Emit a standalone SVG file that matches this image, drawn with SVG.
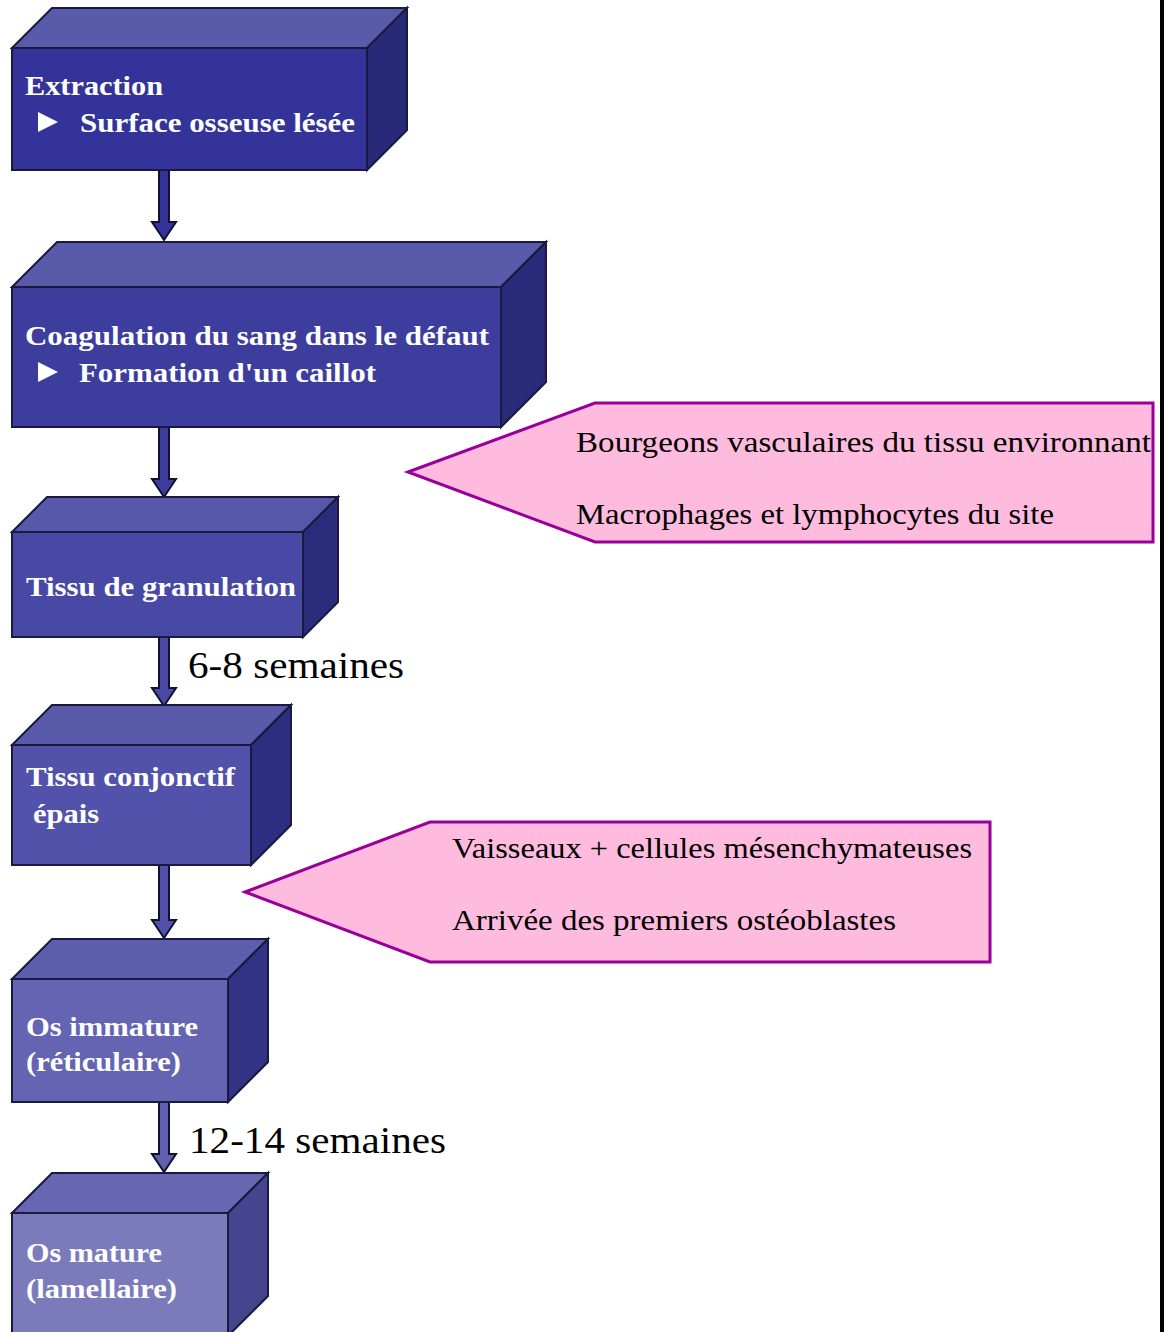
<svg xmlns="http://www.w3.org/2000/svg" width="1164" height="1332" viewBox="0 0 1164 1332">
<style>
.edge{stroke:#1a1a40;stroke-width:2;stroke-linejoin:miter}
.bt{font-family:"Liberation Serif","DejaVu Serif",serif;font-weight:bold;font-size:27px;fill:#ffffff}
.ct{font-family:"Liberation Serif","DejaVu Serif",serif;font-size:29px;fill:#000000}
.wk{font-family:"Liberation Serif","DejaVu Serif",serif;font-size:37px;fill:#000000}
.arr{stroke:#111133;stroke-width:2;stroke-linejoin:miter}
.call{fill:#ffbbdd;stroke:#990099;stroke-width:3}
</style>
<rect x="0" y="0" width="1164" height="1332" fill="#ffffff"/>
<rect x="1160" y="0" width="4" height="1332" fill="#000000"/>

<g id="connectors">
<path class="arr" fill="#333399" d="M159,170 L169,170 L169,222 L176,222 L164,240 L152,222 L159,222 Z"/>
<path class="arr" fill="#3d3d9d" d="M159,427 L169,427 L169,479 L176,479 L164,497 L152,479 L159,479 Z"/>
<path class="arr" fill="#4a4aa5" d="M159,637 L169,637 L169,688 L176,688 L164,706 L152,688 L159,688 Z"/>
<path class="arr" fill="#5252aa" d="M159,865 L169,865 L169,920 L176,920 L164,938 L152,920 L159,920 Z"/>
<path class="arr" fill="#6060b0" d="M159,1102 L169,1102 L169,1154 L176,1154 L164,1172 L152,1154 L159,1154 Z"/>
<text class="wk" x="188" y="678" textLength="216" lengthAdjust="spacingAndGlyphs">6-8 semaines</text>
<text class="wk" x="189" y="1153" textLength="257" lengthAdjust="spacingAndGlyphs">12-14 semaines</text>
</g>

<g id="n1">
<polygon class="edge" fill="#5a5aaa" points="12,48 52,8 407,8 367,48"/>
<polygon class="edge" fill="#29297a" points="367,48 407,8 407,130 367,170"/>
<rect class="edge" fill="#333399" x="12" y="48" width="355" height="122"/>
<text class="bt" x="25" y="95" textLength="138" lengthAdjust="spacingAndGlyphs">Extraction</text>
<polygon fill="#ffffff" points="38,112 58,122 38,132"/>
<text class="bt" x="80" y="132" textLength="275" lengthAdjust="spacingAndGlyphs">Surface osseuse lésée</text>
</g>

<g id="n2">
<polygon class="edge" fill="#5a5aaa" points="12,287 57,242 546,242 501,287"/>
<polygon class="edge" fill="#2a2a7a" points="501,287 546,242 546,382 501,427"/>
<rect class="edge" fill="#3d3d9d" x="12" y="287" width="489" height="140"/>
<text class="bt" x="25" y="345" textLength="464" lengthAdjust="spacingAndGlyphs">Coagulation du sang dans le défaut</text>
<polygon fill="#ffffff" points="38,362 58,372 38,382"/>
<text class="bt" x="79" y="382" textLength="297" lengthAdjust="spacingAndGlyphs">Formation d'un caillot</text>
</g>

<g id="c1">
<polygon class="call" points="408,472 595,403 1153,403 1153,542 595,542"/>
<text class="ct" x="576" y="452" textLength="575" lengthAdjust="spacingAndGlyphs">Bourgeons vasculaires du tissu environnant</text>
<text class="ct" x="576" y="524" textLength="478" lengthAdjust="spacingAndGlyphs">Macrophages et lymphocytes du site</text>
</g>

<g id="n3">
<polygon class="edge" fill="#5858ab" points="12,532 47,497 338,497 303,532"/>
<polygon class="edge" fill="#2c2c7c" points="303,532 338,497 338,602 303,637"/>
<rect class="edge" fill="#4848a5" x="12" y="532" width="291" height="105"/>
<text class="bt" x="26" y="596" textLength="270" lengthAdjust="spacingAndGlyphs">Tissu de granulation</text>
</g>

<g id="n4">
<polygon class="edge" fill="#5a5aab" points="12,745 52,705 291,705 251,745"/>
<polygon class="edge" fill="#2e2e80" points="251,745 291,705 291,825 251,865"/>
<rect class="edge" fill="#5252aa" x="12" y="745" width="239" height="120"/>
<text class="bt" x="26" y="786" textLength="209" lengthAdjust="spacingAndGlyphs">Tissu conjonctif</text>
<text class="bt" x="33" y="823" textLength="66" lengthAdjust="spacingAndGlyphs">épais</text>
</g>

<g id="c2">
<polygon class="call" points="245,892 430,822 990,822 990,962 430,962"/>
<text class="ct" x="452" y="858" textLength="520" lengthAdjust="spacingAndGlyphs">Vaisseaux + cellules mésenchymateuses</text>
<text class="ct" x="452" y="930" textLength="444" lengthAdjust="spacingAndGlyphs">Arrivée des premiers ostéoblastes</text>
</g>

<g id="n5">
<polygon class="edge" fill="#5d5dad" points="12,979 52,939 268,939 228,979"/>
<polygon class="edge" fill="#333385" points="228,979 268,939 268,1062 228,1102"/>
<rect class="edge" fill="#6464b2" x="12" y="979" width="216" height="123"/>
<text class="bt" x="26" y="1036" textLength="172" lengthAdjust="spacingAndGlyphs">Os immature</text>
<text class="bt" x="26" y="1071" textLength="155" lengthAdjust="spacingAndGlyphs">(réticulaire)</text>
</g>

<g id="n6">
<polygon class="edge" fill="#6767b1" points="12,1213 52,1173 268,1173 228,1213"/>
<polygon class="edge" fill="#45458f" points="228,1213 268,1173 268,1296 228,1336"/>
<rect class="edge" fill="#7b7bbb" x="12" y="1213" width="216" height="123"/>
<text class="bt" x="26" y="1262" textLength="136" lengthAdjust="spacingAndGlyphs">Os mature</text>
<text class="bt" x="26" y="1298" textLength="151" lengthAdjust="spacingAndGlyphs">(lamellaire)</text>
</g>
</svg>
